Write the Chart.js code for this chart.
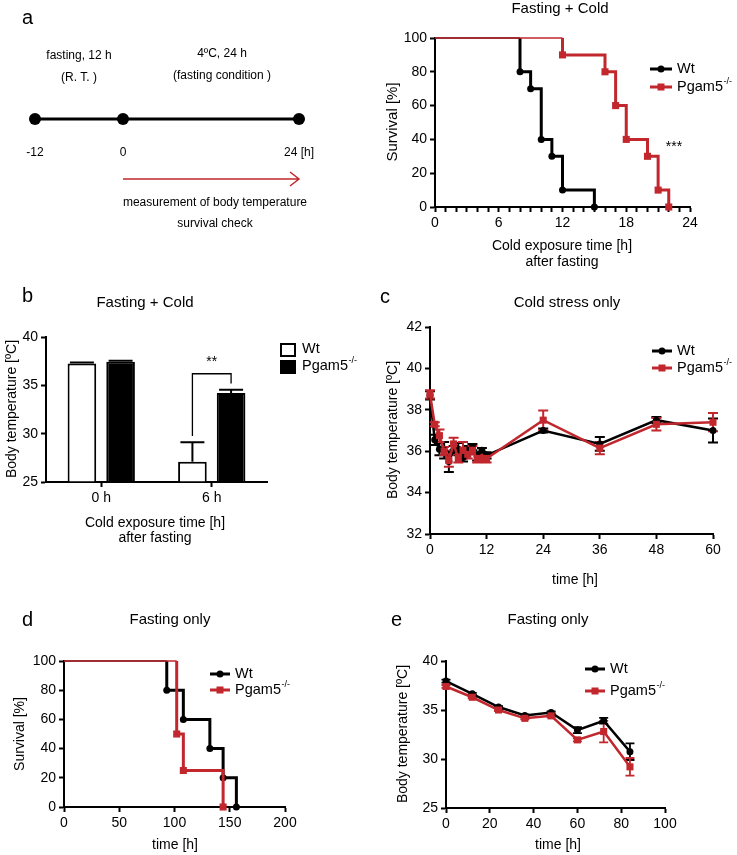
<!DOCTYPE html>
<html>
<head>
<meta charset="utf-8">
<script src="https://cdn.jsdelivr.net/npm/chart.js@4.4.0/dist/chart.umd.min.js"></script>
<style>
  body { margin: 0; background: #fff; }
  #page { position: relative; width: 737px; height: 855px; overflow: hidden; background: #fff; }
  canvas { position: absolute; }
</style>
</head>
<body>
<div id="page"></div>
<script>
// timeline (a, left)
const tlHours = [-12, 0, 24];
const tlLabels = ['-12', '0', '24 [h]'];

// a: survival, fasting + cold
const aWtTime = [0, 8, 9, 10, 11, 12, 15];
const aWtSurv = [100, 80, 70, 40, 30, 10, 0];
const aKoTime = [0, 12, 16, 17, 18, 20, 21, 22];
const aKoSurv = [100, 90, 80, 60, 40, 30, 10, 0];

// b: body temperature, fasting + cold
const bGroups = ['0 h', '6 h'];
const bWt = [37.25, 27.1];
const bWtErr = [0.1, 2.0];
const bKo = [37.45, 34.2];
const bKoErr = [0.1, 0.35];

// c: cold stress only
const cTime = [0, 1, 2, 3, 4, 5, 6, 7, 8, 9, 10, 11, 12, 24, 36, 48, 60];
const cWt = [38.7, 36.55, 36.1, 36.05, 35.5, 36.05, 36.1, 35.7, 36.05, 36.2, 35.75, 36.05, 35.8, 37.0, 36.35, 37.5, 37.0];
const cWtErr = [0.2, 0.25, 0.3, 0.4, 0.5, 0.2, 0.3, 0.2, 0.2, 0.15, 0.2, 0.1, 0.15, 0.1, 0.33, 0.15, 0.58];
const cKo = [38.75, 37.3, 36.75, 36.0, 35.55, 36.35, 35.65, 36.05, 35.85, 36.05, 35.65, 35.65, 35.65, 37.5, 36.15, 37.3, 37.4];
const cKoErr = [0.2, 0.1, 0.3, 0.2, 0.3, 0.3, 0.2, 0.4, 0.2, 0.2, 0.2, 0.15, 0.2, 0.47, 0.3, 0.3, 0.44];

// d: survival, fasting only
const dWtTime = [0, 93, 108, 132, 144, 156];
const dWtSurv = [100, 80, 60, 40, 20, 0];
const dKoTime = [0, 102, 108, 144];
const dKoSurv = [100, 50, 25, 0];

// e: body temperature, fasting only
const eTime = [0, 12, 24, 36, 48, 60, 72, 84];
const eWt = [37.95, 36.65, 35.3, 34.45, 34.75, 32.95, 33.9, 30.75];
const eWtErr = [0.15, 0.1, 0.1, 0.1, 0.1, 0.3, 0.3, 0.85];
const eKo = [37.4, 36.3, 35.0, 34.15, 34.4, 31.95, 32.8, 29.2];
const eKoErr = [0.15, 0.1, 0.1, 0.1, 0.15, 0.15, 1.1, 0.9];

const RED = '#c1272d';
const FONT = '"Liberation Sans", Arial, Helvetica, sans-serif';
const TICK = 14, TITLE = 15, AXT = 14, LEG = 14.5, LETTER = 20, TL = 12;

Chart.defaults.font.family = FONT;
Chart.defaults.color = '#000';

function makeCanvas(box) {
  const c = document.createElement('canvas');
  c.width = box.w;
  c.height = box.h;
  c.style.left = box.x + 'px';
  c.style.top = box.y + 'px';
  c.style.width = box.w + 'px';
  c.style.height = box.h + 'px';
  document.getElementById('page').appendChild(c);
  return c;
}

function drawText(ctx, box, it) {
  ctx.save();
  ctx.fillStyle = it.color || '#000';
  ctx.font = it.size + 'px ' + FONT;
  ctx.textAlign = it.align || 'center';
  ctx.textBaseline = 'middle';
  ctx.translate(it.x - box.x, it.y - box.y);
  if (it.rot) ctx.rotate(it.rot * Math.PI / 180);
  ctx.fillText(it.t, 0, 0);
  if (it.sup) {
    const w = ctx.measureText(it.t).width;
    ctx.font = Math.round(it.size * 0.6) + 'px ' + FONT;
    ctx.textAlign = 'left';
    ctx.fillText(it.sup, w + 0.5, -it.size * 0.38);
  }
  ctx.restore();
}

function legendLine(ctx, box, it) {
  const y = it.y - box.y, x1 = it.x1 - box.x, x2 = it.x2 - box.x;
  ctx.save();
  ctx.strokeStyle = it.color;
  ctx.fillStyle = it.color;
  ctx.lineWidth = 3;
  ctx.beginPath();
  ctx.moveTo(x1, y);
  ctx.lineTo(x2, y);
  ctx.stroke();
  const mx = (x1 + x2) / 2;
  if (it.marker === 'circle') {
    ctx.beginPath();
    ctx.arc(mx, y, 3.5, 0, Math.PI * 2);
    ctx.fill();
  } else {
    ctx.fillRect(mx - 3.5, y - 3.5, 7, 7);
  }
  ctx.restore();
  drawText(ctx, box, { t: it.label, sup: it.sup, x: it.x2 + 5, y: it.y, size: LEG, align: 'left' });
}

function textPlugin(box, items, extra) {
  return {
    id: 'texts',
    afterDraw(chart) {
      const ctx = chart.ctx;
      items.forEach(it => drawText(ctx, box, it));
      if (extra) extra(chart, ctx);
    }
  };
}

function errorPlugin(specs, after) {
  const draw = chart => {
    const ctx = chart.ctx, ys = chart.scales.y;
    specs.forEach(s => {
      const meta = chart.getDatasetMeta(s.ds);
      ctx.save();
      ctx.strokeStyle = s.color;
      ctx.lineWidth = s.lw || 2;
      meta.data.forEach((el, j) => {
        const top = ys.getPixelForValue(s.vals[j] + s.errs[j]);
        const bot = ys.getPixelForValue(s.up ? s.vals[j] : s.vals[j] - s.errs[j]);
        ctx.beginPath();
        ctx.moveTo(el.x, top);
        ctx.lineTo(el.x, bot);
        ctx.moveTo(el.x - s.cap, top);
        ctx.lineTo(el.x + s.cap, top);
        if (!s.up) {
          ctx.moveTo(el.x - s.cap, bot);
          ctx.lineTo(el.x + s.cap, bot);
        }
        ctx.stroke();
      });
      ctx.restore();
    });
  };
  return after ? { id: 'errbars', afterDatasetsDraw: draw } : { id: 'errbars', beforeDatasetsDraw: draw };
}

function padFor(box, plot, xH) {
  return {
    left: 0,
    top: plot.t - box.y,
    right: box.x + box.w - plot.r,
    bottom: box.y + box.h - plot.b - xH
  };
}

function axis(type, min, max, step, fit, more) {
  return Object.assign({
    type: type,
    min: min,
    max: max,
    ticks: { stepSize: step, autoSkip: false, maxRotation: 0, color: '#000', font: { size: TICK }, padding: 3 },
    grid: { display: true, drawOnChartArea: false, drawTicks: true, tickLength: 5, tickWidth: 2, tickColor: '#000' },
    border: { display: true, width: 2, color: '#000' },
    afterFit: fit
  }, more || {});
}

function baseOptions(box, plot, xH, scales) {
  return {
    responsive: false,
    animation: false,
    devicePixelRatio: 1,
    events: [],
    layout: { padding: padFor(box, plot, xH) },
    scales: scales,
    plugins: { legend: { display: false }, tooltip: { enabled: false } }
  };
}

// Kaplan-Meier step path: a corner point before each drop, marker on the drop
function kmPoints(times, surv) {
  const pts = [{ x: times[0], y: surv[0], m: false }];
  for (let i = 1; i < times.length; i++) {
    pts.push({ x: times[i], y: surv[i - 1], m: false });
    pts.push({ x: times[i], y: surv[i], m: true });
  }
  return pts;
}

function kmDataset(label, times, surv, color, style, order) {
  return {
    label: label,
    data: kmPoints(times, surv),
    borderColor: color,
    backgroundColor: color,
    borderWidth: 3,
    pointStyle: style,
    pointRadius: ctx => (ctx.raw && ctx.raw.m) ? (style === 'rect' ? 5 : 3.5) : 0,
    pointBorderWidth: 0,
    pointBackgroundColor: color,
    segment: { borderWidth: ctx => (ctx.p0.parsed.y === 100 && ctx.p1.parsed.y === 100) ? 1.5 : 3 },
    order: order,
    clip: 8
  };
}

function lineDataset(label, xs, ys, color, style, order) {
  return {
    label: label,
    data: xs.map((x, i) => ({ x: x, y: ys[i] })),
    borderColor: color,
    backgroundColor: color,
    borderWidth: 2.5,
    pointStyle: style,
    pointRadius: style === 'rect' ? 5 : 3.5,
    pointBorderWidth: 0,
    pointBackgroundColor: color,
    order: order,
    clip: 8
  };
}

// ---------- timeline ----------
(function () {
  const box = { x: 0, y: 0, w: 360, h: 250 };
  const items = [
    { t: 'a', x: 22, y: 18, size: LETTER, align: 'left' },
    { t: 'fasting, 12 h', x: 79, y: 56, size: TL },
    { t: '(R. T. )', x: 79, y: 78, size: TL },
    { t: '4ºC, 24 h', x: 222, y: 54, size: TL },
    { t: '(fasting condition )', x: 222, y: 76, size: TL },
    { t: 'measurement of body temperature', x: 215, y: 203, size: TL },
    { t: 'survival check', x: 215, y: 224, size: TL }
  ];
  new Chart(makeCanvas(box), {
    type: 'line',
    data: {
      datasets: [{
        data: tlHours.map(h => ({ x: h, y: 0 })),
        borderColor: '#000',
        borderWidth: 3,
        pointRadius: 6,
        pointBorderWidth: 0,
        pointBackgroundColor: '#000',
        clip: false
      }]
    },
    options: {
      responsive: false,
      animation: false,
      devicePixelRatio: 1,
      events: [],
      layout: { padding: { left: 35, right: 61, top: 99, bottom: 111 } },
      scales: {
        x: { type: 'linear', min: -12, max: 24, display: false },
        y: { type: 'linear', min: -1, max: 1, display: false }
      },
      plugins: { legend: { display: false }, tooltip: { enabled: false } }
    },
    plugins: [textPlugin(box, items, (chart, ctx) => {
      const xs = chart.scales.x;
      tlHours.forEach((h, i) => {
        drawText(ctx, { x: 0, y: 0 }, { t: tlLabels[i], x: xs.getPixelForValue(h), y: 153, size: TL });
      });
      const x0 = xs.getPixelForValue(0), x1 = xs.getPixelForValue(24), y = 179;
      ctx.save();
      ctx.strokeStyle = RED;
      ctx.lineWidth = 1.5;
      ctx.beginPath();
      ctx.moveTo(x0, y);
      ctx.lineTo(x1, y);
      ctx.moveTo(x1 - 9, y - 7);
      ctx.lineTo(x1, y);
      ctx.lineTo(x1 - 9, y + 7);
      ctx.stroke();
      ctx.restore();
    })]
  });
})();

// ---------- a: survival ----------
(function () {
  const box = { x: 360, y: 0, w: 377, h: 275 };
  const plot = { l: 435, t: 38, r: 690, b: 207 };
  const xH = box.y + box.h - plot.b;
  const items = [
    { t: 'Fasting + Cold', x: 560, y: 9, size: TITLE },
    { t: 'Survival [%]', x: 393, y: 122, size: 15, rot: -90 },
    { t: 'Cold exposure time [h]', x: 562, y: 246, size: AXT },
    { t: 'after fasting', x: 562, y: 262, size: AXT },
    { t: '***', x: 674, y: 147, size: 14 }
  ];
  new Chart(makeCanvas(box), {
    type: 'line',
    data: {
      datasets: [
        kmDataset('Wt', aWtTime, aWtSurv, '#000', 'circle', 1),
        kmDataset('Pgam5-/-', aKoTime, aKoSurv, RED, 'rect', 0)
      ]
    },
    options: baseOptions(box, plot, xH, {
      x: axis('linear', 0, 24, 1, s => { s.height = xH; }, {
        ticks: { stepSize: 1, autoSkip: false, maxRotation: 0, color: '#000', font: { size: TICK }, padding: 3,
          callback: v => (v % 6 === 0 ? String(v) : '') }
      }),
      y: axis('linear', 0, 100, 20, s => { s.width = plot.l - box.x; })
    }),
    plugins: [textPlugin(box, items, (chart, ctx) => {
      legendLine(ctx, box, { x1: 650, x2: 672, y: 69, color: '#000', marker: 'circle', label: 'Wt' });
      legendLine(ctx, box, { x1: 650, x2: 672, y: 87, color: RED, marker: 'rect', label: 'Pgam5', sup: '-/-' });
    })]
  });
})();

// ---------- b: bars ----------
(function () {
  const box = { x: 0, y: 280, w: 370, h: 275 };
  const plot = { l: 46, t: 337, r: 267, b: 482 };
  const xH = box.y + box.h - plot.b;
  const items = [
    { t: 'b', x: 22, y: 296, size: LETTER, align: 'left' },
    { t: 'Fasting + Cold', x: 145, y: 303, size: TITLE },
    { t: 'Body temperature [ºC]', x: 12, y: 409, size: AXT, rot: -90 },
    { t: 'Cold exposure time [h]', x: 155, y: 523, size: AXT },
    { t: 'after fasting', x: 155, y: 538, size: AXT }
  ];
  const barCommon = { borderColor: '#000', borderWidth: 2, base: 25, categoryPercentage: 0.7, barPercentage: 0.74 };
  new Chart(makeCanvas(box), {
    type: 'bar',
    data: {
      labels: bGroups,
      datasets: [
        Object.assign({ label: 'Wt', data: bWt, backgroundColor: '#fff' }, barCommon),
        Object.assign({ label: 'Pgam5-/-', data: bKo, backgroundColor: '#000' }, barCommon)
      ]
    },
    options: baseOptions(box, plot, xH, {
      x: axis('category', undefined, undefined, undefined, s => { s.height = xH; }, {
        grid: { display: true, offset: false, drawOnChartArea: false, drawTicks: true, tickLength: 5, tickWidth: 2, tickColor: '#000' }
      }),
      y: axis('linear', 25, 40, 5, s => { s.width = plot.l - box.x; })
    }),
    plugins: [
      errorPlugin([
        { ds: 0, vals: bWt, errs: bWtErr, cap: 12, up: true, color: '#000', lw: 2 },
        { ds: 1, vals: bKo, errs: bKoErr, cap: 12, up: true, color: '#000', lw: 2 }
      ], true),
      textPlugin(box, items, (chart, ctx) => {
        const ys = chart.scales.y;
        const p0 = chart.getDatasetMeta(0).data[1], p1 = chart.getDatasetMeta(1).data[1];
        const yb = ys.getPixelForValue(36.2);
        ctx.save();
        ctx.strokeStyle = '#000';
        ctx.lineWidth = 1.3;
        ctx.beginPath();
        ctx.moveTo(p0.x, ys.getPixelForValue(29.75));
        ctx.lineTo(p0.x, yb);
        ctx.lineTo(p1.x, yb);
        ctx.lineTo(p1.x, ys.getPixelForValue(35.2));
        ctx.stroke();
        ctx.restore();
        drawText(ctx, { x: 0, y: 0 }, { t: '**', x: (p0.x + p1.x) / 2, y: yb - 12, size: 14 });
        // legend boxes
        ctx.save();
        ctx.lineWidth = 2;
        ctx.strokeStyle = '#000';
        ctx.fillStyle = '#fff';
        ctx.fillRect(281 - box.x, 344 - box.y, 14, 12);
        ctx.strokeRect(281 - box.x, 344 - box.y, 14, 12);
        ctx.fillStyle = '#000';
        ctx.fillRect(280 - box.x, 360 - box.y, 16, 14);
        ctx.restore();
        drawText(ctx, box, { t: 'Wt', x: 302, y: 349, size: LEG, align: 'left' });
        drawText(ctx, box, { t: 'Pgam5', sup: '-/-', x: 302, y: 366, size: LEG, align: 'left' });
      })
    ]
  });
})();

// ---------- c: cold stress only ----------
(function () {
  const box = { x: 370, y: 280, w: 367, h: 310 };
  const plot = { l: 430, t: 327, r: 713, b: 534 };
  const xH = box.y + box.h - plot.b;
  const items = [
    { t: 'c', x: 380, y: 297, size: LETTER, align: 'left' },
    { t: 'Cold stress only', x: 567, y: 303, size: TITLE },
    { t: 'Body temperature [ºC]', x: 393, y: 430, size: AXT, rot: -90 },
    { t: 'time [h]', x: 575, y: 580, size: AXT }
  ];
  new Chart(makeCanvas(box), {
    type: 'line',
    data: {
      datasets: [
        lineDataset('Wt', cTime, cWt, '#000', 'circle', 1),
        lineDataset('Pgam5-/-', cTime, cKo, RED, 'rect', 0)
      ]
    },
    options: baseOptions(box, plot, xH, {
      x: axis('linear', 0, 60, 12, s => { s.height = xH; }),
      y: axis('linear', 32, 42, 2, s => { s.width = plot.l - box.x; })
    }),
    plugins: [
      errorPlugin([
        { ds: 0, vals: cWt, errs: cWtErr, cap: 5, color: '#000', lw: 2 },
        { ds: 1, vals: cKo, errs: cKoErr, cap: 5, color: RED, lw: 2 }
      ]),
      textPlugin(box, items, (chart, ctx) => {
        legendLine(ctx, box, { x1: 652, x2: 672, y: 351, color: '#000', marker: 'circle', label: 'Wt' });
        legendLine(ctx, box, { x1: 652, x2: 672, y: 368, color: RED, marker: 'rect', label: 'Pgam5', sup: '-/-' });
      })
    ]
  });
})();

// ---------- d: survival, fasting only ----------
(function () {
  const box = { x: 0, y: 570, w: 370, h: 285 };
  const plot = { l: 64, t: 661, r: 285, b: 807 };
  const xH = box.y + box.h - plot.b;
  const items = [
    { t: 'd', x: 22, y: 620, size: LETTER, align: 'left' },
    { t: 'Fasting only', x: 170, y: 620, size: TITLE },
    { t: 'Survival [%]', x: 20, y: 734, size: AXT, rot: -90 },
    { t: 'time [h]', x: 175, y: 845, size: AXT }
  ];
  new Chart(makeCanvas(box), {
    type: 'line',
    data: {
      datasets: [
        kmDataset('Wt', dWtTime, dWtSurv, '#000', 'circle', 1),
        kmDataset('Pgam5-/-', dKoTime, dKoSurv, RED, 'rect', 0)
      ]
    },
    options: baseOptions(box, plot, xH, {
      x: axis('linear', 0, 200, 50, s => { s.height = xH; }),
      y: axis('linear', 0, 100, 20, s => { s.width = plot.l - box.x; })
    }),
    plugins: [textPlugin(box, items, (chart, ctx) => {
      legendLine(ctx, box, { x1: 210, x2: 230, y: 674, color: '#000', marker: 'circle', label: 'Wt' });
      legendLine(ctx, box, { x1: 210, x2: 230, y: 690, color: RED, marker: 'rect', label: 'Pgam5', sup: '-/-' });
    })]
  });
})();

// ---------- e: body temperature, fasting only ----------
(function () {
  const box = { x: 370, y: 570, w: 367, h: 285 };
  const plot = { l: 446, t: 661, r: 665, b: 808 };
  const xH = box.y + box.h - plot.b;
  const items = [
    { t: 'e', x: 391, y: 620, size: LETTER, align: 'left' },
    { t: 'Fasting only', x: 548, y: 620, size: TITLE },
    { t: 'Body temperature [ºC]', x: 403, y: 734, size: AXT, rot: -90 },
    { t: 'time [h]', x: 558, y: 845, size: AXT }
  ];
  new Chart(makeCanvas(box), {
    type: 'line',
    data: {
      datasets: [
        lineDataset('Wt', eTime, eWt, '#000', 'circle', 1),
        lineDataset('Pgam5-/-', eTime, eKo, RED, 'rect', 0)
      ]
    },
    options: baseOptions(box, plot, xH, {
      x: axis('linear', 0, 100, 20, s => { s.height = xH; }),
      y: axis('linear', 25, 40, 5, s => { s.width = plot.l - box.x; })
    }),
    plugins: [
      errorPlugin([
        { ds: 0, vals: eWt, errs: eWtErr, cap: 4.5, color: '#000', lw: 1.8 },
        { ds: 1, vals: eKo, errs: eKoErr, cap: 4.5, color: RED, lw: 1.8 }
      ]),
      textPlugin(box, items, (chart, ctx) => {
        legendLine(ctx, box, { x1: 585, x2: 605, y: 669, color: '#000', marker: 'circle', label: 'Wt' });
        legendLine(ctx, box, { x1: 585, x2: 605, y: 691, color: RED, marker: 'rect', label: 'Pgam5', sup: '-/-' });
      })
    ]
  });
})();
</script>
</body>
</html>
